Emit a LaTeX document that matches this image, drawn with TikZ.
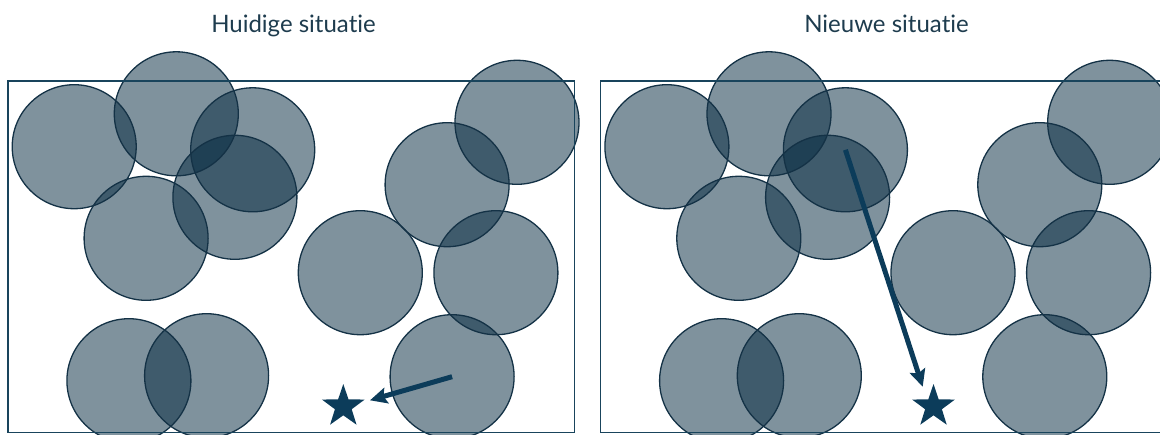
\documentclass[tikz,border=0pt]{standalone}
\usepackage{fontspec}
\setmainfont[RawFeature=-liga]{Lato}
\usetikzlibrary{shapes.geometric,arrows.meta}
\definecolor{navy}{RGB}{0,37,60}
\definecolor{edge}{RGB}{20,50,70}
\definecolor{framec}{RGB}{25,68,92}
\definecolor{ink}{RGB}{12,60,90}
\definecolor{titlec}{RGB}{30,60,78}
\begin{document}
\begin{tikzpicture}[x=1pt,y=-1pt,
  disc/.style={circle,minimum size=124pt,inner sep=0pt,fill=navy,fill opacity=0.5},
  ring/.style={draw=edge,line width=1.3pt},
  frame/.style={draw=framec,line width=1.6pt},
  starmark/.style={star,star points=5,star point ratio=2.55,minimum size=45pt,inner sep=0pt,fill=ink},
  pointer/.style={draw=ink,line width=5pt,-{Stealth[length=17pt,width=16pt,inset=3pt]}},
  title/.style={text=titlec,font=\fontsize{24}{28}\selectfont,anchor=base}]
\useasboundingbox (0,0) rectangle (1160,434);
\clip (0,0) rectangle (1160,434);
\foreach \p/\dx in {L/0,R/592.7}{
  \foreach \i/\x/\y in {1/74.2/146.7,2/176.3/113.8,3/252.7/149.8,4/234.9/197.3,
      5/146.1/238.3,6/517/122.3,7/447.1/184.7,8/360.3/272.7,9/495.9/272.7,
      10/452.1/376.7,11/128.9/380.7,12/206.6/375.7}{
    \node[disc] (\p\i) at (\x+\dx,\y) {};
  }
}
\foreach \p in {L,R}{
  \foreach \i in {1,...,12}{
    \draw[ring] (\p\i.center) circle[radius=62];
  }
}
\draw[frame] (8.1,81) rectangle (574.5,432.4);
\draw[frame] (600.3,81) rectangle (1167,432.4);
\node[title] (H1) at (293.5,32.3) {Huidige situatie};
\node[title] (H2) at (886.5,32.3) {Nieuwe situatie};
\node[starmark] (S1) at (343.3,406.5) {};
\node[starmark] (S2) at (933.5,406.5) {};
\coordinate (T1) at (370,400.3);
\coordinate (T2) at (922.7,386.7);
\draw[pointer] (L10.center) -- (T1);
\draw[pointer] (R3.center) -- (T2);
\end{tikzpicture}
\end{document}
